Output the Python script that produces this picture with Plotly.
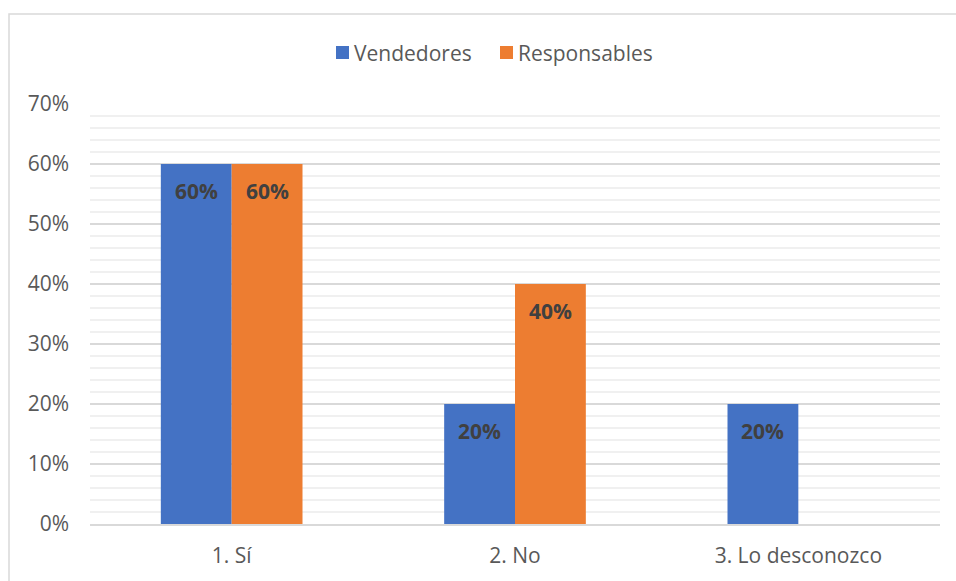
import plotly.graph_objects as go

categories = ["1. Sí", "2. No", "3. Lo desconozco"]
vendedores = [0.60, 0.20, 0.20]
responsables = [0.60, 0.40, 0.0]
series_names = ["Vendedores", "Responsables"]
colors = ["#4472C4", "#ED7D31"]
y_ticks = [0, 0.1, 0.2, 0.3, 0.4, 0.5, 0.6, 0.7]

FONT = "Open Sans, sans-serif"
FS = 21

fig = go.Figure()
for name, vals, col in zip(series_names, [vendedores, responsables], colors):
    fig.add_trace(go.Bar(x=categories, y=vals, name=name, showlegend=False,
                         marker=dict(color=col, line=dict(width=0))))

L, R, T, B = 90, 16, 104, 57
W, H = 956, 581
pw = W - L - R
ph = H - T - B
bar_w_px = pw / len(categories) * 0.5 / 2


def px(x):
    return (x - L) / pw


def py(y):
    return (H - B - y) / ph


annotations = []
for si, vals in enumerate([vendedores, responsables]):
    shift = (-0.5 if si == 0 else 0.5) * bar_w_px
    for c, v in zip(categories, vals):
        if v > 0:
            annotations.append(dict(
                x=c, y=v, xref="x", yref="y", text=f"{round(v*100)}%",
                showarrow=False, xshift=shift, yshift=-27, yanchor="middle",
                font=dict(family=FONT, size=FS, color="#404040", weight="bold")))

shapes = [dict(type="rect", xref="paper", yref="paper",
               x0=px(9), x1=1.2, y0=-0.5, y1=py(14),
               line=dict(color="#d9d9d9", width=1.5), fillcolor="rgba(0,0,0,0)", layer="below")]

# custom legend
legend_x = [336, 500]
for name, col, lx in zip(series_names, colors, legend_x):
    shapes.append(dict(type="rect", xref="paper", yref="paper",
                       x0=px(lx), x1=px(lx + 13), y0=py(59), y1=py(46),
                       fillcolor=col, line=dict(width=0)))
    annotations.append(dict(x=px(lx + 16), y=py(52.5), xref="paper", yref="paper",
                            text=name, showarrow=False, xanchor="left", yanchor="middle",
                            font=dict(family=FONT, size=FS, color="#595959")))

fig.update_layout(
    width=W, height=H,
    margin=dict(l=L, r=R, t=T, b=B, autoexpand=False),
    paper_bgcolor="white", plot_bgcolor="white",
    barmode="group", bargap=0.5, bargroupgap=0,
    font=dict(family=FONT, size=FS, color="#595959"),
    showlegend=False,
    annotations=annotations,
    shapes=shapes,
)
fig.update_yaxes(range=[0, 0.7], tickvals=y_ticks, tickformat=".0%", automargin=False,
                 showgrid=True, gridcolor="#d9d9d9", gridwidth=1.5,
                 minor=dict(dtick=0.02, showgrid=True, gridcolor="#f0f0f0", gridwidth=1.5),
                 zeroline=False, showline=False, ticks="", ticklabelstandoff=20,
                 tickfont=dict(family=FONT, size=FS, color="#595959"))
fig.update_xaxes(showline=True, linecolor="#d9d9d9", linewidth=1.5, ticks="", automargin=False,
                 ticklabelstandoff=12, tickfont=dict(family=FONT, size=FS, color="#595959"))

fig.write_html("out.html")
